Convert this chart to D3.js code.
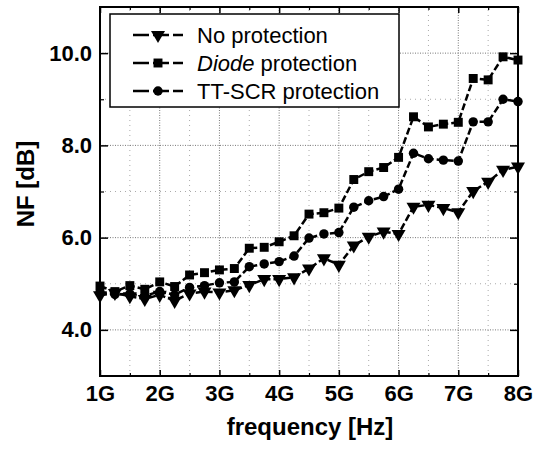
<!DOCTYPE html>
<html>
<head>
<meta charset="utf-8">
<script src="https://cdn.jsdelivr.net/npm/d3@7"></script>
<style>
  body { margin: 0; background: #fff; }
  svg { display: block; font-family: "Liberation Sans", Arial, sans-serif; }
</style>
</head>
<body>
<div id="vis-holder"></div>
<script>
// Data (GHz, dB)
const freq = d3.range(29).map(i => 1 + i * 0.25);
const noProtection = [4.75, 4.80, 4.73, 4.67, 4.76, 4.63, 4.79, 4.83, 4.81, 4.86, 4.97, 5.10, 5.10, 5.14, 5.33, 5.55, 5.41,
  5.83, 6.02, 6.13, 6.08, 6.67, 6.71, 6.64, 6.55, 7.01, 7.21, 7.47, 7.54];
const diodeProtection = [4.95, 4.83, 4.96, 4.88, 5.04, 4.94, 5.19, 5.24, 5.30, 5.33, 5.77, 5.79, 5.91, 6.04, 6.51, 6.54, 6.64,
  7.26, 7.43, 7.52, 7.74, 8.62, 8.40, 8.46, 8.50, 9.45, 9.42, 9.92, 9.85];
const scrProtection = [4.81, 4.77, 4.78, 4.74, 4.83, 4.76, 4.92, 4.96, 5.02, 5.04, 5.37, 5.43, 5.48, 5.60, 5.99, 6.08, 6.11,
  6.66, 6.80, 6.89, 7.05, 7.83, 7.71, 7.68, 7.66, 8.51, 8.51, 9.00, 8.95];
const seriesNames = ["No protection", "Diode protection", "TT-SCR protection"];
const xTicks = [1, 2, 3, 4, 5, 6, 7, 8];
const yTicks = [4, 6, 8, 10];

const width = 540, height = 452;
const margin = { top: 7, right: 22, bottom: 76, left: 100 };

const svg = d3.select("#vis-holder")
    .append("svg")
    .attr("width", width)
    .attr("height", height);

const x = d3.scaleLinear()
    .domain([1, 8])
    .range([margin.left, width - margin.right]);

const y = d3.scaleLinear()
    .domain([3, 11])
    .range([height - margin.bottom, margin.top]);

const x0 = margin.left, x1 = width - margin.right;
const y0 = height - margin.bottom, y1 = margin.top;

// Grid (minor first, then major)
const minorX = d3.range(1.5, 8, 1);
const minorY = [5, 7, 9];
svg.append("g").selectAll("line")
    .data(minorX)
    .join("line")
    .attr("x1", d => x(d)).attr("x2", d => x(d))
    .attr("y1", y0).attr("y2", y1)
    .attr("stroke", "#aaa").attr("stroke-width", 1)
    .attr("stroke-dasharray", "1,4");
svg.append("g").selectAll("line")
    .data(minorY)
    .join("line")
    .attr("x1", x0).attr("x2", x1)
    .attr("y1", d => y(d)).attr("y2", d => y(d))
    .attr("stroke", "#aaa").attr("stroke-width", 1)
    .attr("stroke-dasharray", "1,4");
svg.append("g").selectAll("line")
    .data(xTicks.slice(1, -1))
    .join("line")
    .attr("x1", d => x(d)).attr("x2", d => x(d))
    .attr("y1", y0).attr("y2", y1)
    .attr("stroke", "#777").attr("stroke-width", 1)
    .attr("stroke-dasharray", "1,1.5");
svg.append("g").selectAll("line")
    .data(yTicks)
    .join("line")
    .attr("x1", x0).attr("x2", x1)
    .attr("y1", d => y(d)).attr("y2", d => y(d))
    .attr("stroke", "#777").attr("stroke-width", 1)
    .attr("stroke-dasharray", "1,1.5");

// Axes (ticks inward on all four sides)
const fontTick = "22px";
svg.append("g")
    .attr("transform", `translate(0,${y0})`)
    .call(d3.axisBottom(x).tickValues(xTicks).tickSize(-6).tickPadding(9).tickFormat(d => d + "G"))
    .call(g => g.select(".domain").remove())
    .call(g => g.selectAll("line").attr("stroke", "#000").attr("stroke-width", 1.5))
    .call(g => g.selectAll("text").attr("font-size", fontTick).attr("font-weight", "bold").attr("fill", "#000")
        .attr("font-family", "Liberation Sans, Arial, sans-serif"));
svg.append("g")
    .attr("transform", `translate(0,${y0})`)
    .call(d3.axisBottom(x).tickValues(minorX).tickSize(-3).tickFormat(""))
    .call(g => g.select(".domain").remove())
    .call(g => g.selectAll("line").attr("stroke", "#000").attr("stroke-width", 1.2));
svg.append("g")
    .attr("transform", `translate(0,${y1})`)
    .call(d3.axisTop(x).tickValues(xTicks).tickSize(-6).tickFormat(""))
    .call(g => g.select(".domain").remove())
    .call(g => g.selectAll("line").attr("stroke", "#000").attr("stroke-width", 1.5));
svg.append("g")
    .attr("transform", `translate(0,${y1})`)
    .call(d3.axisTop(x).tickValues(minorX).tickSize(-3).tickFormat(""))
    .call(g => g.select(".domain").remove())
    .call(g => g.selectAll("line").attr("stroke", "#000").attr("stroke-width", 1.2));

svg.append("g")
    .attr("transform", `translate(${x0},0)`)
    .call(d3.axisLeft(y).tickValues(yTicks).tickSize(-8).tickPadding(8).tickFormat(d3.format(".1f")))
    .call(g => g.select(".domain").remove())
    .call(g => g.selectAll("line").attr("stroke", "#000").attr("stroke-width", 1.5))
    .call(g => g.selectAll("text").attr("font-size", fontTick).attr("font-weight", "bold").attr("fill", "#000")
        .attr("font-family", "Liberation Sans, Arial, sans-serif"));
svg.append("g")
    .attr("transform", `translate(${x0},0)`)
    .call(d3.axisLeft(y).tickValues(minorY).tickSize(-4).tickFormat(""))
    .call(g => g.select(".domain").remove())
    .call(g => g.selectAll("line").attr("stroke", "#000").attr("stroke-width", 1.2));
svg.append("g")
    .attr("transform", `translate(${x1},0)`)
    .call(d3.axisRight(y).tickValues(yTicks).tickSize(-8).tickFormat(""))
    .call(g => g.select(".domain").remove())
    .call(g => g.selectAll("line").attr("stroke", "#000").attr("stroke-width", 1.5));
svg.append("g")
    .attr("transform", `translate(${x1},0)`)
    .call(d3.axisRight(y).tickValues(minorY).tickSize(-4).tickFormat(""))
    .call(g => g.select(".domain").remove())
    .call(g => g.selectAll("line").attr("stroke", "#000").attr("stroke-width", 1.2));

// Frame
svg.append("rect")
    .attr("x", x0).attr("y", y1)
    .attr("width", x1 - x0).attr("height", y0 - y1)
    .attr("fill", "none").attr("stroke", "#000").attr("stroke-width", 2);

// Axis titles
svg.append("text")
    .attr("x", 310)
    .attr("y", 435)
    .attr("text-anchor", "middle")
    .attr("font-size", "24px").attr("font-weight", "bold")
    .text("frequency [Hz]");
svg.append("text")
    .attr("transform", `translate(34,184) rotate(-90)`)
    .attr("text-anchor", "middle")
    .attr("font-size", "24px").attr("font-weight", "bold")
    .text("NF [dB]");

// Markers
const symbols = [d3.symbolTriangle, d3.symbolSquare, d3.symbolCircle];
const sizes = [85, 80, 70];
const rotations = [180, 0, 0];
const allSeries = [noProtection, diodeProtection, scrProtection];

const line = d3.line()
    .x((d, i) => x(freq[i]))
    .y(d => y(d));

allSeries.forEach((vals, s) => {
  svg.append("path")
      .datum(vals)
      .attr("d", line)
      .attr("fill", "none")
      .attr("stroke", "#000")
      .attr("stroke-width", 2.5)
      .attr("stroke-dasharray", "7,3");
  svg.append("g").selectAll("path")
      .data(vals)
      .join("path")
      .attr("transform", (d, i) => `translate(${x(freq[i])},${y(d)}) rotate(${rotations[s]})`)
      .attr("d", d3.symbol().type(symbols[s]).size(sizes[s]))
      .attr("fill", "#000");
});

// Legend
const legend = svg.append("g");
legend.append("rect")
    .attr("x", 110).attr("y", 14)
    .attr("width", 289).attr("height", 93)
    .attr("fill", "#fff").attr("stroke", "#000").attr("stroke-width", 1.5);
seriesNames.forEach((name, s) => {
  const ly = 35 + s * 28;
  legend.append("line")
      .attr("x1", 133).attr("x2", 183)
      .attr("y1", ly).attr("y2", ly)
      .attr("stroke", "#000").attr("stroke-width", 2.5)
      .attr("stroke-dasharray", "16,4");
  legend.append("path")
      .attr("transform", `translate(158,${ly}) rotate(${rotations[s]})`)
      .attr("d", d3.symbol().type(symbols[s]).size(sizes[s]))
      .attr("fill", "#000");
  const t = legend.append("text")
      .attr("x", 197).attr("y", ly + 8)
      .attr("font-size", "22px");
  if (s === 1) {
    t.append("tspan").attr("font-style", "italic").text("Diode");
    t.append("tspan").text(" protection");
  } else {
    t.text(name);
  }
});
</script>
</body>
</html>
